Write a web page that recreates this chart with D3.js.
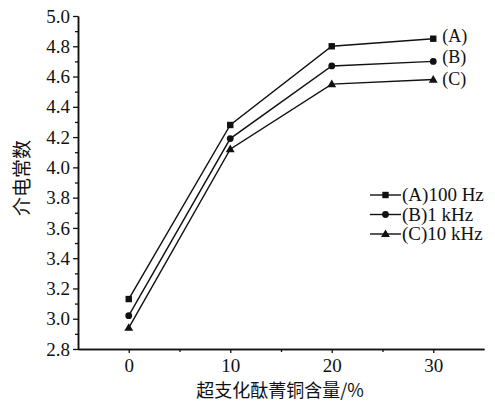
<!DOCTYPE html>
<html>
<head>
<meta charset="utf-8">
<script src="https://cdn.jsdelivr.net/npm/d3@7"></script>
<style>
  body { margin: 0; background: #fff; }
  text { font-family: "Liberation Serif", "Times New Roman", serif; fill: #111; }
  .cjk { font-family: "Noto Sans CJK SC", sans-serif; }
</style>
</head>
<body>
<div id="chart"></div>
<script>
// data
var contents = [0, 10, 20, 30];
var seriesA = [3.13, 4.28, 4.80, 4.85];
var seriesB = [3.02, 4.19, 4.67, 4.70];
var seriesC = [2.94, 4.12, 4.55, 4.58];
var seriesNames = ['(A)100 Hz', '(B)1 kHz', '(C)10 kHz'];
var endLabels = ['(A)', '(B)', '(C)'];
var markers = ['square', 'circle', 'triangle'];
var xTicks = [0, 10, 20, 30];
var yTicks = [2.8, 3.0, 3.2, 3.4, 3.6, 3.8, 4.0, 4.2, 4.4, 4.6, 4.8, 5.0];

var W = 495, H = 403;
var plotL = 78, plotR = 484, plotT = 16, plotB = 349;

var svg = d3.select('#chart').append('svg')
    .attr('width', W).attr('height', H);

var x = d3.scaleLinear().domain([-5, 35]).range([plotL, plotR]);
var y = d3.scaleLinear().domain([2.8, 5.0]).range([plotB, plotT]);

// y axis
var yAxis = svg.append('g').attr('transform', 'translate(' + plotL + ',0)');
yAxis.call(d3.axisLeft(y).tickValues(yTicks).tickFormat(d3.format('.1f'))
    .tickSize(5).tickSizeOuter(0).tickPadding(3));
yAxis.append('g').call(d3.axisLeft(y).tickValues(d3.range(2.9, 5.0, 0.2)).tickFormat('')
    .tickSize(3).tickSizeOuter(0));

// x axis
var xAxis = svg.append('g').attr('transform', 'translate(0,' + plotB + ')');
xAxis.call(d3.axisBottom(x).tickValues(xTicks).tickFormat(d3.format('d'))
    .tickSize(4).tickSizeOuter(0).tickPadding(6));
xAxis.append('g').call(d3.axisBottom(x).tickValues([5, 15, 25]).tickFormat('')
    .tickSize(3).tickSizeOuter(0));

svg.selectAll('.domain').attr('stroke', '#111').attr('stroke-width', 1.5);
svg.selectAll('.tick line').attr('stroke', '#111').attr('stroke-width', 1.3);
svg.selectAll('.tick text').attr('font-size', 19)
    .attr('font-family', '"Liberation Serif", serif').attr('fill', '#111');

// axis titles
svg.append('text').attr('class', 'cjk')
    .attr('transform', 'translate(29,178) rotate(-90)')
    .attr('text-anchor', 'middle').attr('font-size', 19)
    .text('介电常数');
svg.append('text').attr('class', 'cjk')
    .attr('x', 280).attr('y', 397)
    .attr('text-anchor', 'middle').attr('font-size', 18)
    .text('超支化酞菁铜含量/%');

var line = d3.line()
    .x(function (d, i) { return x(contents[i]); })
    .y(function (d) { return y(d); });

function drawMarker(g, type, cx, cy) {
    if (type === 'square') {
        g.append('rect').attr('x', cx - 3.2).attr('y', cy - 3.2)
            .attr('width', 6.4).attr('height', 6.4).attr('fill', '#111');
    } else if (type === 'circle') {
        g.append('circle').attr('cx', cx).attr('cy', cy).attr('r', 3.4).attr('fill', '#111');
    } else {
        g.append('path').attr('d', d3.symbol().type(d3.symbolTriangle).size(34)())
            .attr('transform', 'translate(' + cx + ',' + (cy + 0.5) + ')')
            .attr('fill', '#111');
    }
}

// small vertical nudges so the end labels sit as in the original
var labelShift = [-2, -3, 0];

[seriesA, seriesB, seriesC].forEach(function (vals, s) {
    var g = svg.append('g');
    g.append('path').datum(vals).attr('d', line)
        .attr('fill', 'none').attr('stroke', '#111').attr('stroke-width', 1.4);
    vals.forEach(function (v, i) {
        drawMarker(g, markers[s], x(contents[i]), y(v));
    });
    // end label
    g.append('text')
        .attr('x', x(contents[3]) + 9).attr('y', y(vals[3]) + 5 + labelShift[s])
        .attr('font-size', 18).text(endLabels[s]);
});

// legend
var legend = svg.append('g').attr('transform', 'translate(370,195)');
seriesNames.forEach(function (name, s) {
    var r = legend.append('g').attr('transform', 'translate(0,' + (s * 19.5) + ')');
    r.append('line').attr('x1', 0).attr('x2', 31).attr('y1', 0).attr('y2', 0)
        .attr('stroke', '#111').attr('stroke-width', 1.4);
    drawMarker(r, markers[s], 15.5, 0);
    r.append('text').attr('x', 32).attr('y', 6)
        .attr('font-size', 19).text(name);
});
</script>
</body>
</html>
